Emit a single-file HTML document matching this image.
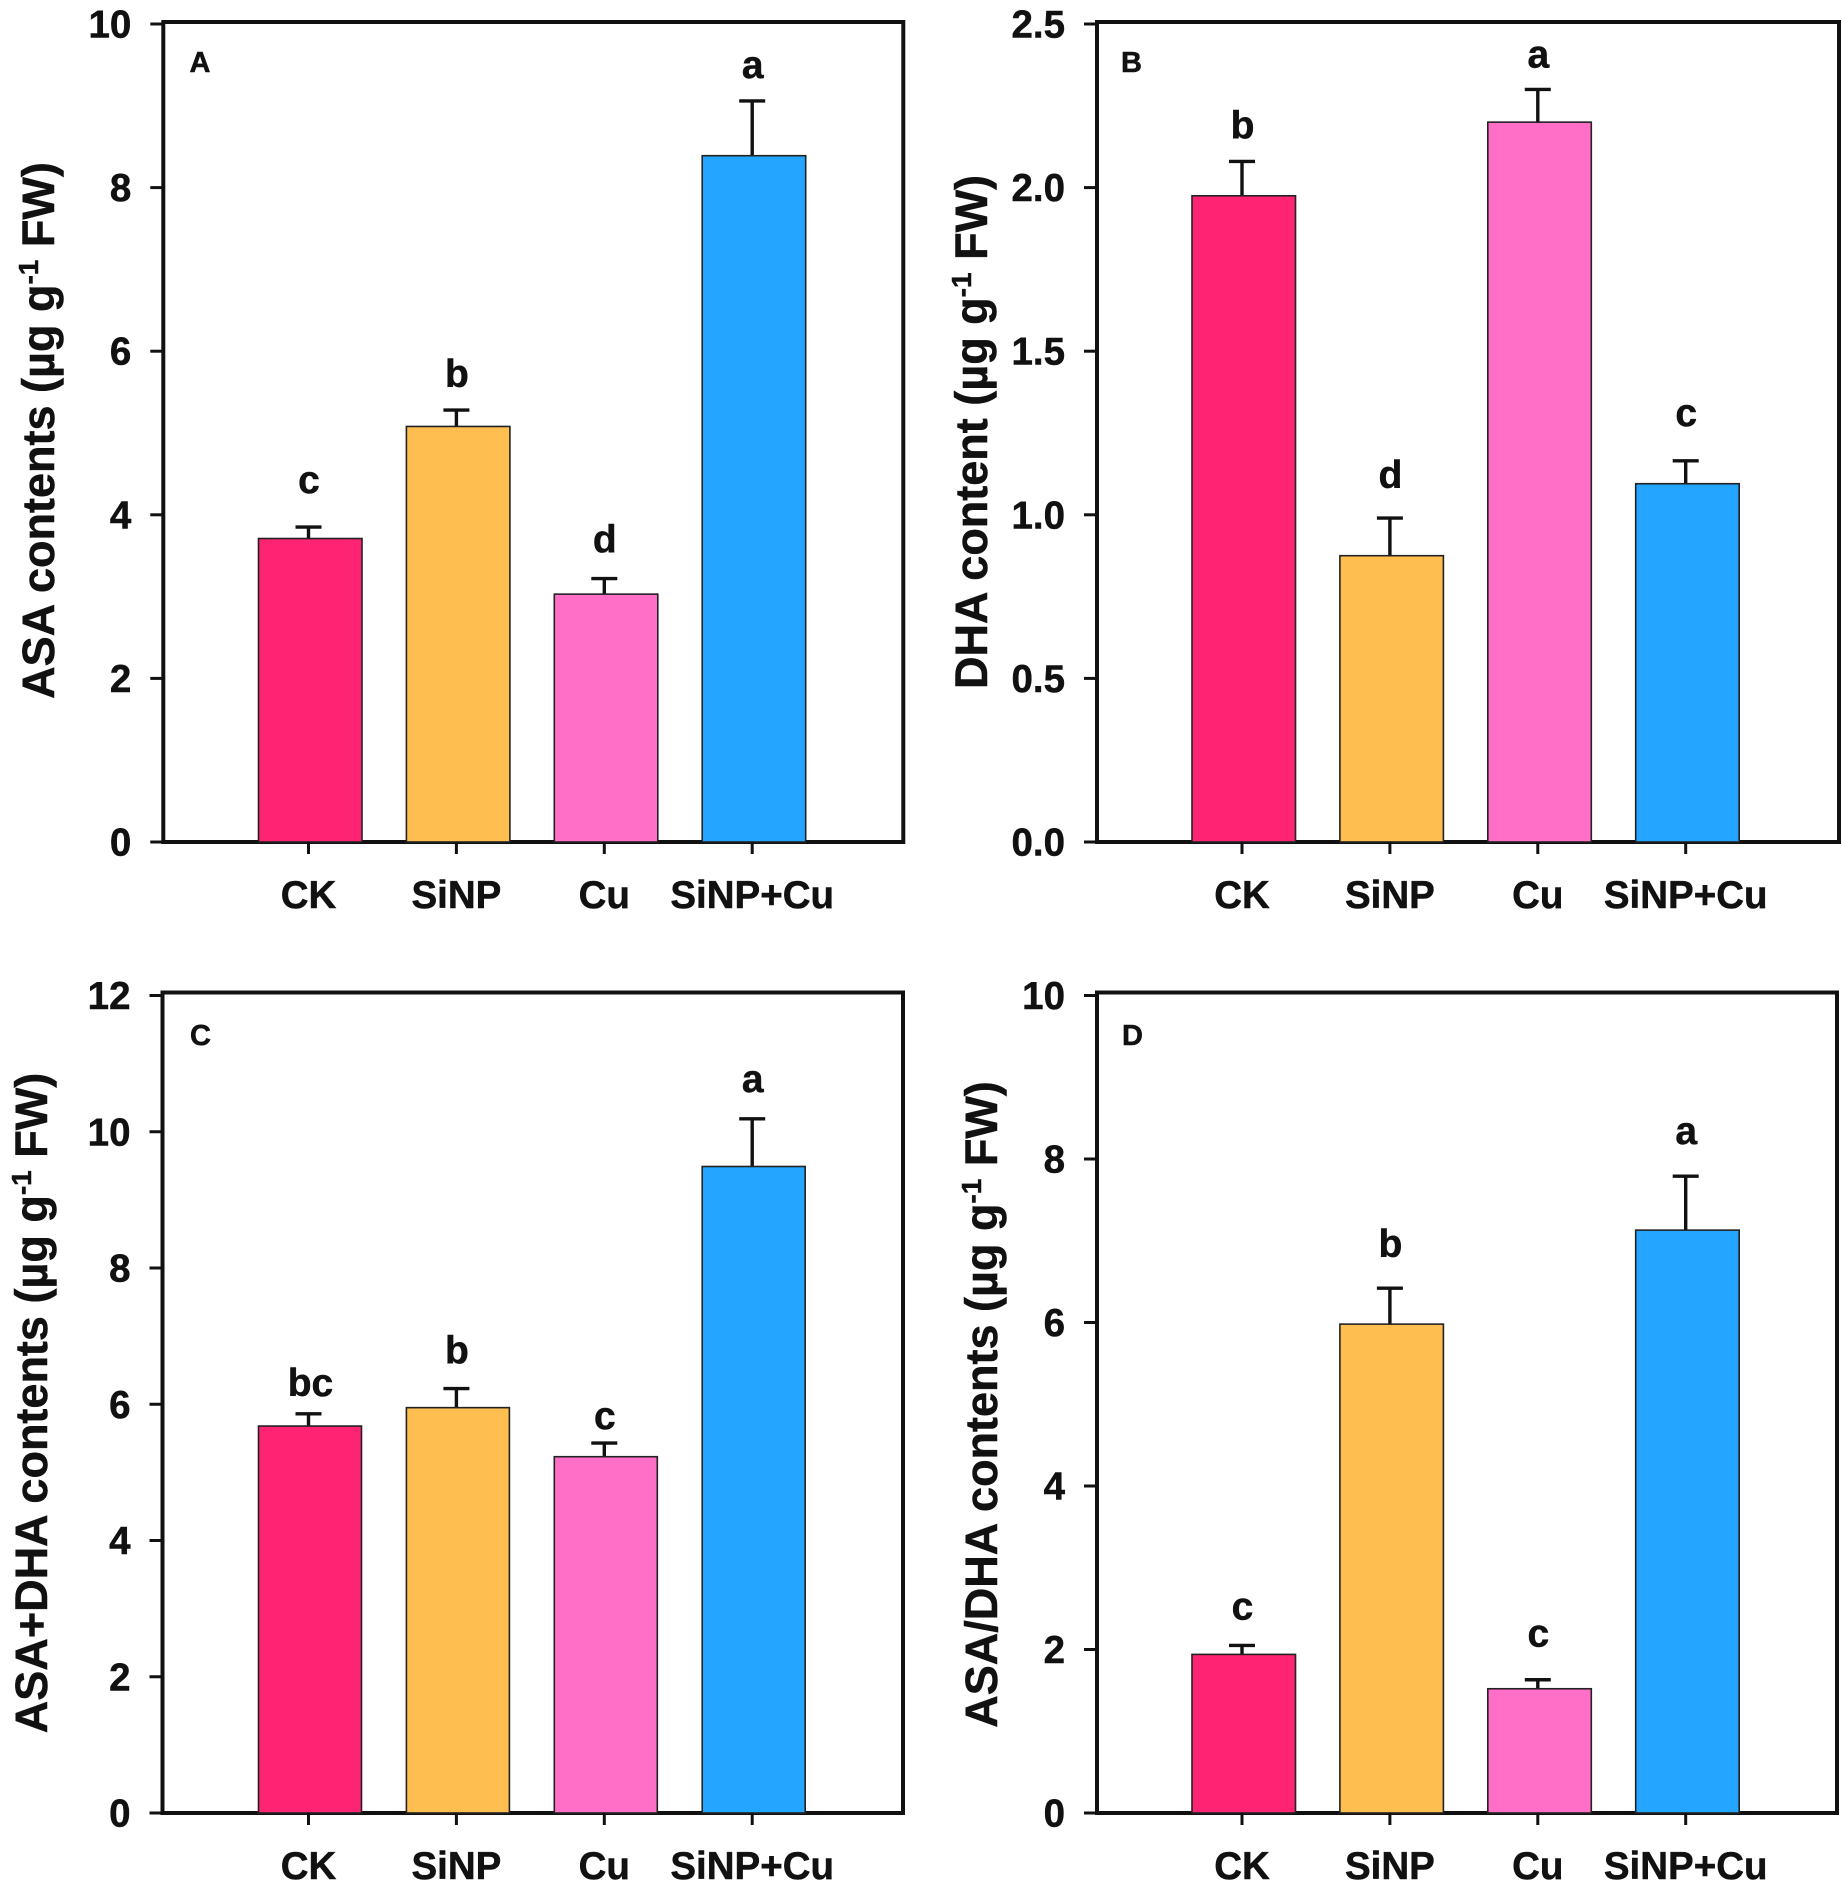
<!DOCTYPE html>
<html lang="en">
<head>
<meta charset="utf-8">
<title>ASA and DHA contents</title>
<style>
  html, body { margin: 0; padding: 0; background: #fff; }
  svg { display: block; }
  text { font-family: "Liberation Sans", Arial, sans-serif; font-weight: bold; fill: #111; stroke: #111; stroke-width: 0.5; }
  .frame { stroke: #111; stroke-width: 4; fill: none; stroke-linecap: square; }
  .ytitle { font-size: 45px; text-anchor: middle; }
  .letter { font-size: 29px; }
</style>
</head>
<body>
<svg id="figure" xmlns="http://www.w3.org/2000/svg" width="1842" height="1891" viewBox="0 0 1842 1891">
  <rect x="0" y="0" width="1842" height="1891" fill="#ffffff"/>

  <g id="panel-a">
    <path class="frame" d="M163.3 22 H903.3 V842 H163.3 Z"/>
    <text class="letter" x="189.5" y="72">A</text>
    <text class="ytitle" transform="translate(54,430.5) rotate(-90)">ASA contents (µg g<tspan font-size="28" dy="-16">-1</tspan><tspan dy="16"> FW)</tspan></text>
  </g>

  <g id="panel-b">
    <path class="frame" d="M1097 22 H1839 V842 H1097 Z"/>
    <text class="letter" x="1121" y="72">B</text>
    <text class="ytitle" transform="translate(987,432) rotate(-90)">DHA content (µg g<tspan font-size="28" dy="-16">-1</tspan><tspan dy="16"> FW)</tspan></text>
  </g>

  <g id="panel-c">
    <path class="frame" d="M162.5 992.5 H903 V1813 H162.5 Z"/>
    <text class="letter" x="190" y="1045">C</text>
    <text class="ytitle" transform="translate(47,1403) rotate(-90)">ASA+DHA contents (µg g<tspan font-size="28" dy="-16">-1</tspan><tspan dy="16"> FW)</tspan></text>
  </g>

  <g id="panel-d">
    <path class="frame" d="M1097 992.5 H1837 V1813 H1097 Z"/>
    <text class="letter" x="1122" y="1045">D</text>
    <text class="ytitle" transform="translate(997,1404.5) rotate(-90)">ASA/DHA contents (µg g<tspan font-size="28" dy="-16">-1</tspan><tspan dy="16"> FW)</tspan></text>
  </g>
</svg>

<script>
// Shared categories and bar colours
const categories = ['CK', 'SiNP', 'Cu', 'SiNP+Cu'];
const barColors = ['#FF2473', '#FFBE50', '#FF6EC7', '#24A5FF'];

// Panel A: ASA contents
const asaTicks = ['0', '2', '4', '6', '8', '10'];
const asaValues = [3.71, 5.08, 3.03, 8.39];
const asaErrorTops = [3.85, 5.28, 3.22, 9.06];
const asaLetters = ['c', 'b', 'd', 'a'];

// Panel B: DHA content
const dhaTicks = ['0.0', '0.5', '1.0', '1.5', '2.0', '2.5'];
const dhaValues = [1.975, 0.875, 2.20, 1.095];
const dhaErrorTops = [2.08, 0.99, 2.30, 1.165];
const dhaLetters = ['b', 'd', 'a', 'c'];

// Panel C: ASA+DHA contents
const sumTicks = ['0', '2', '4', '6', '8', '10', '12'];
const sumValues = [5.68, 5.95, 5.23, 9.49];
const sumErrorTops = [5.86, 6.23, 5.43, 10.19];
const sumLetters = ['bc', 'b', 'c', 'a'];

// Panel D: ASA/DHA ratio
const ratioTicks = ['0', '2', '4', '6', '8', '10'];
const ratioValues = [1.94, 5.98, 1.52, 7.13];
const ratioErrorTops = [2.05, 6.42, 1.63, 7.79];
const ratioLetters = ['c', 'b', 'c', 'a'];

const SVG_NS = 'http://www.w3.org/2000/svg';

function mk(parent, tag, attrs, content) {
  const el = document.createElementNS(SVG_NS, tag);
  Object.keys(attrs).forEach(function (k) { el.setAttribute(k, attrs[k]); });
  if (content !== undefined) el.textContent = content;
  parent.appendChild(el);
  return el;
}

function drawPanel(layout, ticks, values, errorTops, letters) {
  const group = document.getElementById(layout.id);
  const maxValue = parseFloat(ticks[ticks.length - 1]);
  const yScale = function (v) {
    return layout.bottom - (v / maxValue) * (layout.bottom - layout.tickTop);
  };
  const xScale = function (i) {
    return layout.x0 + i * layout.step;
  };
  const ink = '#111';

  // bars and error bars
  categories.forEach(function (cat, i) {
    const cx = xScale(i);
    const top = yScale(values[i]);
    const errY = yScale(errorTops[i]);

    const stem = mk(group, 'line', { x1: cx, x2: cx, y1: top, y2: errY, stroke: ink, 'stroke-width': 3.4 });
    
    

    const cap = mk(group, 'line', { x1: cx - 13, x2: cx + 13, y1: errY, y2: errY, stroke: ink, 'stroke-width': 3.4 });
    
    

    const bar = mk(group, 'rect', {
      x: cx - 50, y: top, width: layout.barWidth, height: layout.bottom - top,
      fill: barColors[i], stroke: '#222', 'stroke-width': 1.6
    });
    
    

    const sig = mk(group, 'text', {
      x: cx + (letters[i].length > 1 ? 2 : 0.5), y: errY - layout.letterGaps[i] - 2,
      'text-anchor': 'middle', 'font-size': 39
    }, letters[i]);
    
    

    const xTick = mk(group, 'line', { x1: cx, x2: cx, y1: layout.bottom, y2: layout.bottom + 12, stroke: ink, 'stroke-width': 3 });
    
    

    const xLabel = mk(group, 'text', {
      x: cx, y: layout.xLabelBaseline, 'text-anchor': 'middle', 'font-size': 38.5
    }, cat);
    
    
  });

  // y axis ticks and labels
  ticks.forEach(function (label) {
    const y = yScale(parseFloat(label));

    const yTick = mk(group, 'line', { x1: layout.left - 13, x2: layout.left, y1: y, y2: y, stroke: ink, 'stroke-width': 3 });
    
    

    const yLabel = mk(group, 'text', {
      x: layout.left - 32, y: y + 13.5, 'text-anchor': 'end', 'font-size': 38.5
    }, label);
    
    
  });
}

drawPanel(
  { id: 'panel-a', left: 163.3, bottom: 842, tickTop: 24, x0: 308.5, step: 147.9, barWidth: 103.5, xLabelBaseline: 908, letterGaps: [32, 21, 24, 21] },
  asaTicks, asaValues, asaErrorTops, asaLetters
);
drawPanel(
  { id: 'panel-b', left: 1097, bottom: 842, tickTop: 24, x0: 1242, step: 147.9, barWidth: 103.5, xLabelBaseline: 908, letterGaps: [21, 28, 20, 33] },
  dhaTicks, dhaValues, dhaErrorTops, dhaLetters
);
drawPanel(
  { id: 'panel-c', left: 162.5, bottom: 1813, tickTop: 995.5, x0: 308.5, step: 147.9, barWidth: 103, xLabelBaseline: 1879, letterGaps: [16, 23, 12, 25] },
  sumTicks, sumValues, sumErrorTops, sumLetters
);
drawPanel(
  { id: 'panel-d', left: 1097, bottom: 1813, tickTop: 995.5, x0: 1242, step: 147.9, barWidth: 103.5, xLabelBaseline: 1879, letterGaps: [24, 29, 31, 30] },
  ratioTicks, ratioValues, ratioErrorTops, ratioLetters
);
</script>
</body>
</html>
